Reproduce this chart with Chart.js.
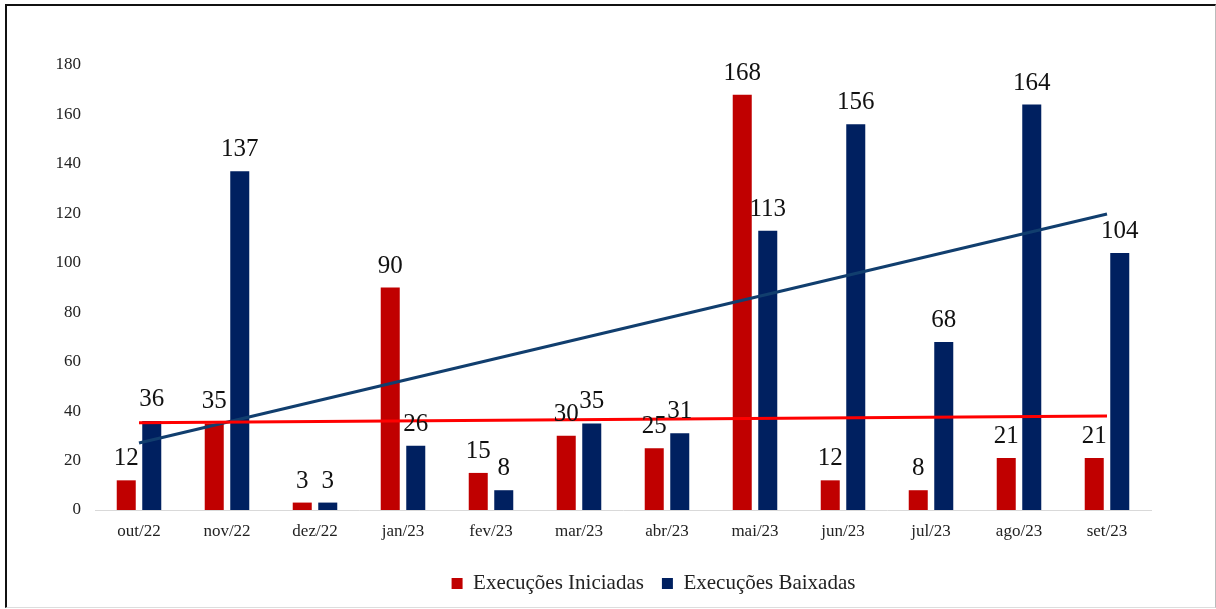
<!DOCTYPE html>
<html>
<head>
<meta charset="utf-8">
<script src="https://cdn.jsdelivr.net/npm/chart.js@4/dist/chart.umd.min.js"></script>
<style>
    body { margin: 0; background: #fff; }
    #wrap { position: absolute; left: 0; top: 0; width: 1216px; height: 609px; }
    #frame {
        position: absolute; left: 5px; top: 4px; width: 1208px; height: 601px;
        border-left: 2px solid #111; border-top: 2px solid #111;
        border-right: 1px solid #bbb; border-bottom: 1px solid #ddd;
        pointer-events: none;
    }
</style>
</head>
<body>
<div id="wrap"><canvas id="chart" width="1216" height="609"></canvas></div>
<div id="frame"></div>
<script>
// #############################################################################
// Data
const months = ["out/22", "nov/22", "dez/22", "jan/23", "fev/23", "mar/23",
    "abr/23", "mai/23", "jun/23", "jul/23", "ago/23", "set/23"];
const iniciadas = [12, 35, 3, 90, 15, 30, 25, 168, 12, 8, 21, 21];
const baixadas = [36, 137, 3, 26, 8, 35, 31, 113, 156, 68, 164, 104];

// Trend line ends (first and last month)
const trendIniciadas = [35.3, 38.0];
const trendBaixadas = [27.1, 119.7];

const yTicks = [0, 20, 40, 60, 80, 100, 120, 140, 160, 180];

const serif = "'Liberation Serif', 'Times New Roman', serif";

// Spread a two-point trend onto the category axis (gaps in between)
const trendSeries = function (ends) {
    return months.map((m, i) =>
        i === 0 ? ends[0] : i === months.length - 1 ? ends[1] : null
    );
};

// #############################################################################
// Plugins

// Value labels above the bars
const barLabels = {
    id: "barLabels",
    afterDatasetsDraw(chart) {
        const ctx = chart.ctx;
        ctx.save();
        ctx.font = "25px " + serif;
        ctx.fillStyle = "#111";
        ctx.textAlign = "center";
        ctx.textBaseline = "alphabetic";
        chart.data.datasets.forEach((ds, di) => {
            if (ds.type !== "bar") return;
            chart.getDatasetMeta(di).data.forEach((bar, i) => {
                ctx.fillText(String(ds.data[i]), bar.x, bar.y - 15);
            });
        });
        ctx.restore();
    },
};

// The original legend sits right of the canvas centre: nudge it over
const legendShift = {
    id: "legendShift",
    afterLayout(chart) {
        chart.legend.left += 78;
        chart.legend.right += 78;
    },
};

// #############################################################################
// Chart
const ctx = document.getElementById("chart").getContext("2d");
const chart = new Chart(ctx, {
    data: {
        labels: months,
        datasets: [
            {
                type: "bar",
                label: "Execuções Iniciadas",
                data: iniciadas,
                backgroundColor: "#C00000",
                categoryPercentage: 0.58,
                barPercentage: 0.745,
                order: 1,
            },
            {
                type: "bar",
                label: "Execuções Baixadas",
                data: baixadas,
                backgroundColor: "#002060",
                categoryPercentage: 0.58,
                barPercentage: 0.745,
                order: 1,
            },
            {
                type: "line",
                label: "trend-iniciadas",
                data: trendSeries(trendIniciadas),
                borderColor: "#FF0000",
                borderWidth: 3,
                pointRadius: 0,
                spanGaps: true,
                order: 0,
            },
            {
                type: "line",
                label: "trend-baixadas",
                data: trendSeries(trendBaixadas),
                borderColor: "#113E6E",
                borderWidth: 3,
                pointRadius: 0,
                spanGaps: true,
                order: 0,
            },
        ],
    },
    options: {
        responsive: false,
        animation: false,
        layout: {
            padding: { left: 0, right: 65, top: 65, bottom: 5 },
        },
        plugins: {
            tooltip: { enabled: false },
            legend: {
                position: "bottom",
                labels: {
                    font: { family: serif, size: 21 },
                    color: "#222",
                    boxWidth: 11,
                    boxHeight: 11,
                    padding: 18,
                    filter: (item) => !item.text.startsWith("trend"),
                },
            },
        },
        scales: {
            x: {
                grid: { display: false, drawTicks: false },
                border: { color: "#d9d9d9", width: 1 },
                ticks: {
                    font: { family: serif, size: 17 },
                    color: "#222",
                    padding: 11,
                    maxRotation: 0,
                },
                afterFit: (scale) => { scale.height = 45; },
            },
            y: {
                min: 0,
                max: 180,
                afterBuildTicks: (scale) => {
                    scale.ticks = yTicks.map((v) => ({ value: v }));
                },
                grid: { display: false, drawTicks: false },
                border: { display: false },
                ticks: {
                    font: { family: serif, size: 17 },
                    color: "#222",
                    padding: 14,
                },
                afterFit: (scale) => { scale.width = 95; },
            },
        },
    },
    plugins: [barLabels, legendShift],
});
</script>
</body>
</html>
